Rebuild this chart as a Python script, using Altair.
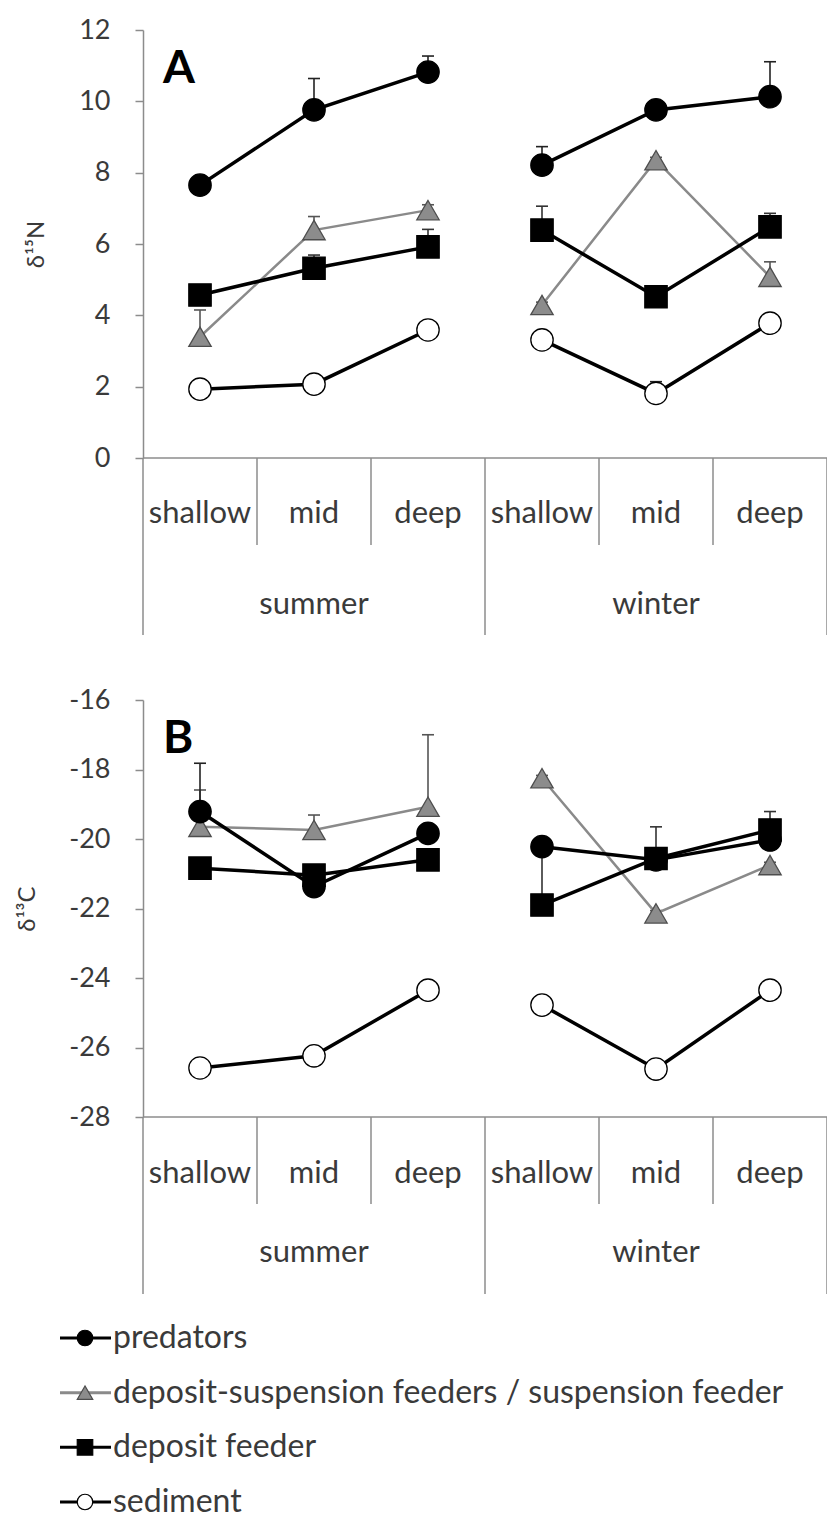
import altair as alt
import pandas as pd

# ---- categories -------------------------------------------------------
depths = ["shallow", "mid", "deep"]
seasons = ["summer", "winter"]
groups = [
    "predators",
    "deposit-suspension feeders / suspension feeder",
    "deposit feeder",
    "sediment",
]

# ---- panel A: d15N (summer shallow, mid, deep, winter shallow, mid, deep)
n15_pred = [7.65, 9.76, 10.82, 8.21, 9.76, 10.13]
n15_pred_sd = [0.12, 0.88, 0.45, 0.52, 0.08, 0.98]
n15_dss = [3.40, 6.39, 6.95, 4.29, 8.35, 5.08]
n15_dss_sd = [0.75, 0.38, 0.15, 0.08, 0.08, 0.42]
n15_dep = [4.57, 5.32, 5.92, 6.39, 4.52, 6.48]
n15_dep_sd = [0.08, 0.37, 0.49, 0.67, 0.08, 0.38]
n15_sed = [1.93, 2.07, 3.59, 3.31, 1.81, 3.78]
n15_sed_sd = [0.05, 0.05, 0.05, 0.05, 0.33, 0.15]

# ---- panel B: d13C -----------------------------------------------------
c13_pred = [-19.21, -21.37, -19.84, -20.22, -20.60, -20.03]
c13_pred_sd = [1.39, 0.10, 0.10, 0.10, 0.10, 0.10]
c13_dss = [-19.65, -19.74, -19.07, -18.25, -22.14, -20.75]
c13_dss_sd = [1.06, 0.43, 2.07, 0.08, 0.08, 0.08]
c13_dep = [-20.84, -21.04, -20.60, -21.90, -20.56, -19.74]
c13_dep_sd = [0.08, 0.12, 0.08, 1.66, 0.91, 0.53]
c13_sed = [-26.59, -26.24, -24.35, -24.78, -26.62, -24.35]
c13_sed_sd = [0.05, 0.05, 0.08, 0.05, 0.05, 0.10]

n15_ticks = [0, 2, 4, 6, 8, 10, 12]
c13_ticks = [-28, -26, -24, -22, -20, -18, -16]

# ---- layout (plot-area pixels) -----------------------------------------
W, H = 684, 1490
FONT = "Lato"
GREY_AXIS = "#8c8c8c"
TEXT = "#3a3a3a"

panels = {
    "A": dict(
        series=[(n15_pred, n15_pred_sd), (n15_dss, n15_dss_sd),
                (n15_dep, n15_dep_sd), (n15_sed, n15_sed_sd)],
        domain=[0, 12], rng=[428, 0], ticks=n15_ticks, title="δ¹⁵N",
        title_x=-107, depth_y=493, season_y=584, letter_y=53,
    ),
    "B": dict(
        series=[(c13_pred, c13_pred_sd), (c13_dss, c13_dss_sd),
                (c13_dep, c13_dep_sd), (c13_sed, c13_sed_sd)],
        domain=[-28, -16], rng=[1087, 670], ticks=c13_ticks, title="δ¹³C",
        title_x=-116, depth_y=1153, season_y=1232, letter_y=723,
    ),
}

style = {
    groups[0]: dict(line="#000000", lw=3.5, shape="circle", fill="#000000",
                    stroke="#000000", err="#222222"),
    groups[1]: dict(line="#8a8a8a", lw=2.5, shape="triangle-up", fill="#8c8c8c",
                    stroke="#4d4d4d", err="#555555"),
    groups[2]: dict(line="#000000", lw=3.5, shape="square", fill="#000000",
                    stroke="#000000", err="#333333"),
    groups[3]: dict(line="#000000", lw=3.5, shape="circle", fill="#ffffff",
                    stroke="#000000", err="#222222"),
}
draw_order = [groups[1], groups[0], groups[2], groups[3]]

xs = alt.Scale(domain=[0, len(depths) * len(seasons)])
X = alt.X("pos:Q", scale=xs, axis=None)

layers = []
for key, p in panels.items():
    rows = []
    for g, (vals, sds) in zip(groups, p["series"]):
        for i, (v, s) in enumerate(zip(vals, sds)):
            rows.append(dict(group=g, season=seasons[i // 3], depth=depths[i % 3],
                             pos=i + 0.5, value=v, top=v + s))
    df = pd.DataFrame(rows)
    ys = alt.Scale(domain=p["domain"], range=p["rng"], nice=False, zero=False)
    Y = alt.Y("value:Q", scale=ys, axis=None)

    # category axis: baseline, separators and labels
    base_df = pd.DataFrame([dict(pos=0, pos2=6, value=p["domain"][0])])
    layers.append(
        alt.Chart(base_df).mark_rule(color=GREY_AXIS, strokeWidth=1.5).encode(
            x=X, x2="pos2:Q",
            y=alt.Y("value:Q", scale=ys, axis=alt.Axis(
                orient="left", values=p["ticks"], grid=False,
                tickSize=8, tickWidth=1.5, tickColor=GREY_AXIS,
                domainColor=GREY_AXIS, domainWidth=1.5,
                labelFont=FONT, labelFontSize=27, labelColor=TEXT,
                labelPadding=25, labelExpr="'' + datum.value",
                title=p["title"], titleFont=FONT, titleFontSize=24,
                titleFontWeight="normal", titleColor=TEXT,
                titleX=p["title_x"], titleY=(p["rng"][0] + p["rng"][1]) / 2,
                titleBaseline="middle", titleAngle=270,
            )),
        )
    )
    bottom = p["rng"][0]
    edges = pd.DataFrame([dict(pos=k) for k in range(7)])
    edges["outer"] = edges["pos"] % 3 == 0
    layers.append(
        alt.Chart(edges).transform_filter("!datum.outer").mark_rule(
            color=GREY_AXIS, strokeWidth=1.5).encode(
            x=X, y=alt.value(bottom), y2=alt.value(bottom + 87))
    )
    layers.append(
        alt.Chart(edges).transform_filter("datum.outer").mark_rule(
            color=GREY_AXIS, strokeWidth=1.5).encode(
            x=X, y=alt.value(bottom), y2=alt.value(bottom + 177))
    )
    cat_df = df[df["group"] == groups[0]][["pos", "depth", "season"]]
    layers.append(
        alt.Chart(cat_df).mark_text(font=FONT, fontSize=31, color=TEXT,
                                    baseline="alphabetic").encode(
            x=X, y=alt.value(p["depth_y"]), text="depth:N")
    )
    season_df = cat_df.groupby("season", as_index=False)["pos"].mean()
    layers.append(
        alt.Chart(season_df).mark_text(font=FONT, fontSize=31, color=TEXT,
                                       baseline="alphabetic").encode(
            x=X, y=alt.value(p["season_y"]), text="season:N")
    )
    layers.append(
        alt.Chart(pd.DataFrame([dict(t=key)])).mark_text(
            font=FONT, fontSize=46, fontWeight="bold", color="#000000",
            align="left", baseline="alphabetic").encode(
            x=alt.value(20), y=alt.value(p["letter_y"]), text="t:N")
    )

    # error bars (drawn first, under the markers)
    for g in draw_order:
        st = style[g]
        gdf = df[df["group"] == g]
        layers.append(
            alt.Chart(gdf).mark_rule(color=st["err"], strokeWidth=1.6).encode(
                x=X, y=Y, y2="top:Q")
        )
        layers.append(
            alt.Chart(gdf).mark_rule(color=st["err"], strokeWidth=1.6,
                                     xOffset=-6, x2Offset=6).encode(
                x=X, x2="pos:Q", y=alt.Y("top:Q", scale=ys, axis=None))
        )
    for g in draw_order:
        st = style[g]
        gdf = df[df["group"] == g]
        layers.append(
            alt.Chart(gdf).mark_line(color=st["line"], strokeWidth=st["lw"]).encode(
                x=X, y=Y, detail="season:N")
        )
    for g in draw_order:
        st = style[g]
        gdf = df[df["group"] == g]
        layers.append(
            alt.Chart(gdf).mark_point(shape=st["shape"], filled=True,
                                      fill=st["fill"], stroke=st["stroke"],
                                      strokeWidth=1.3, size=500, opacity=1).encode(
                x=X, y=Y)
        )

# ---- legend ------------------------------------------------------------
leg_df = pd.DataFrame(dict(group=groups))
LY = alt.Y("group:N", scale=alt.Scale(type="point", domain=groups,
                                      range=[1308, 1472], padding=0), axis=None)
for g in groups:
    st = style[g]
    gdf = leg_df[leg_df["group"] == g]
    layers.append(
        alt.Chart(gdf).mark_rule(color=st["line"], strokeWidth=3).encode(
            x=alt.value(-83), x2=alt.value(-32), y=LY)
    )
    layers.append(
        alt.Chart(gdf).mark_point(shape=st["shape"], filled=True, fill=st["fill"],
                                  stroke=st["stroke"], strokeWidth=1.2, size=240,
                                  opacity=1).encode(x=alt.value(-58), y=LY)
    )
layers.append(
    alt.Chart(leg_df).mark_text(font=FONT, fontSize=32, color=TEXT, align="left",
                                baseline="middle").encode(
        x=alt.value(-30), y=LY, text="group:N")
)

chart = (
    alt.layer(*layers)
    .resolve_scale(y="independent")
    .properties(width=W, height=H, autosize=alt.AutoSizeParams(type="none"),
                padding={"left": 143, "top": 30, "right": 0, "bottom": 0},
                background="#ffffff")
    .configure_view(stroke=None)
)

chart.save("out.html", embed_options={"renderer": "svg", "actions": False})
